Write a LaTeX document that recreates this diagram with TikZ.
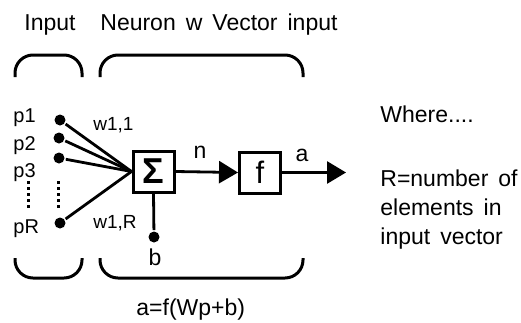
\documentclass[tikz,border=0pt]{standalone}
\usepackage{fontspec}
\setmainfont{Liberation Sans}
\usetikzlibrary{arrows.meta}
\newcommand\widesp{\spaceskip=10pt\relax}
\begin{document}
\begin{tikzpicture}[x=1pt,y=-1pt,line width=2.8pt,
  txt/.style={inner sep=0pt,font=\fontsize{23}{26}\selectfont,execute at begin node=\widesp},
  plbl/.style={inner sep=0pt,font=\fontsize{20}{22}\selectfont},
  lbl/.style={inner sep=0pt,font=\fontsize{19}{21}\selectfont},
  blk/.style={draw,line width=3pt,minimum width=41pt,minimum height=41pt,inner sep=0pt},
  dotnode/.style={circle,fill,inner sep=0pt,minimum size=11pt},
  brk/.style={line width=3pt,rounded corners=18pt},
  arr/.style={-{Triangle[length=19pt,width=22pt]}}]
\useasboundingbox (0,0) rectangle (521,322);
% headings
\node[txt,anchor=base west] (hin) at (23,30) {Input};
\node[txt,anchor=base west] (hne) at (99,30) {Neuron w Vector input};
% brackets
\draw[brk] (15,77) -- (15,55) -- (82,55) -- (82,77);
\draw[brk] (100,77) -- (100,55) -- (303,55) -- (303,77);
\draw[brk] (15,258) -- (15,278) -- (82,278) -- (82,258);
\draw[brk] (100,258) -- (100,278) -- (303,278) -- (303,258);
% blocks
\node[blk] (sig) at (153.5,171.5) {\fontsize{36}{36}\selectfont\bfseries Σ};
\node[blk] (f) at (260,172.5) {\fontsize{31}{31}\selectfont f};
% inputs
\node[dotnode] (d1) at (60,120) {};
\node[dotnode] (d2) at (59,138) {};
\node[dotnode] (d3) at (59,158) {};
\node[dotnode] (dR) at (60,223) {};
\node[plbl,anchor=base west] (p1) at (12,122) {p1};
\node[plbl,anchor=base west] (p2) at (12,150) {p2};
\node[plbl,anchor=base west] (p3) at (12,177) {p3};
\node[plbl,anchor=base west] (pR) at (12,233) {pR};
\draw (d1) -- (sig.west);
\draw (d2) -- (sig.west);
\draw (d3) -- (sig.west);
\draw (dR) -- (sig.west);
\coordinate (v1a) at (28,181);
\coordinate (v1b) at (28,208);
\coordinate (v2a) at (58,181);
\coordinate (v2b) at (58,208);
\draw[line width=3pt,dash pattern=on 3pt off 3pt] (v1a) -- (v1b);
\draw[line width=3pt,dash pattern=on 3pt off 3pt] (v2a) -- (v2b);
\node[lbl,anchor=base west] (w11) at (92,130) {w1,1};
\node[lbl,anchor=base west] (w1R) at (92,228) {w1,R};
% bias
\node[dotnode] (bd) at (154,237) {};
\draw (bd) -- (sig.south);
\node[txt,anchor=base] (b) at (155,265) {b};
% arrows
\draw[arr] (sig.east) -- (f.west);
\node[txt,anchor=base] (n) at (200,158) {n};
\coordinate (out) at (346,172.5);
\draw[arr] (f.east) -- (out);
\node[txt,anchor=base] (a) at (302,161) {a};
% formula
\node[txt,anchor=base west] (eq) at (135,315) {a=f(Wp+b)};
% right text
\node[txt,anchor=base west] (wh) at (379,122) {Where....};
\node[txt,anchor=base west] (r1) at (379,186) {R=number of};
\node[txt,anchor=base west] (r2) at (379,215) {elements in};
\node[txt,anchor=base west] (r3) at (379,244) {input vector};
\end{tikzpicture}
\end{document}
